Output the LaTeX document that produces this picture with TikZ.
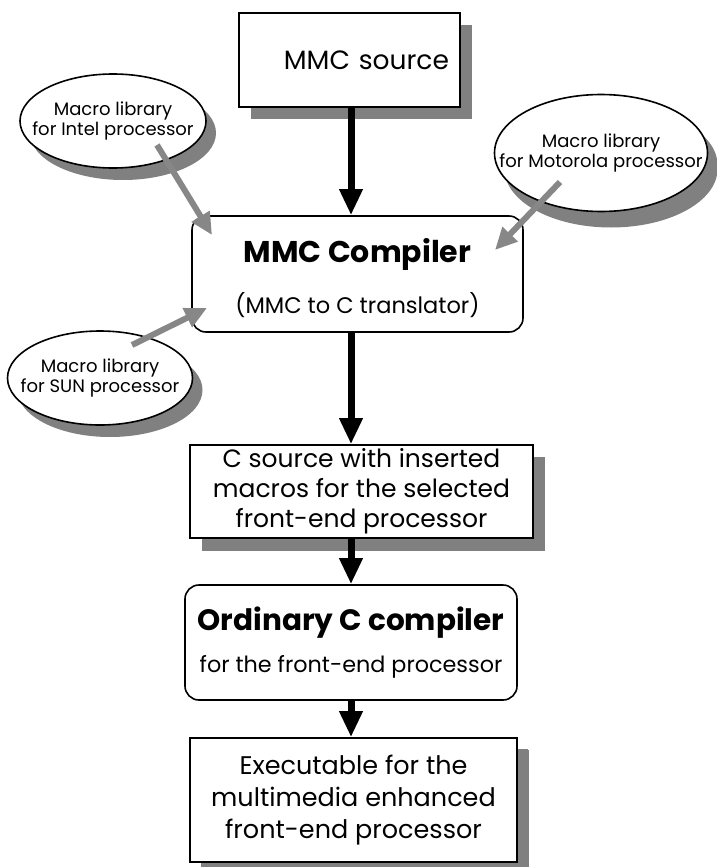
\documentclass[tikz,border=0pt]{standalone}
\usepackage{fontspec}
\setmainfont{Poppins}
\usetikzlibrary{arrows.meta,shadows,shapes.geometric,calc}
\definecolor{shadowgray}{RGB}{128,128,128}
\definecolor{feedgray}{RGB}{135,135,135}
\begin{document}
\begin{tikzpicture}[x=1pt,y=-1pt,
  box/.style={draw=black, line width=1.6pt, fill=white, inner sep=0pt, align=center,
    drop shadow={shadow xshift=12pt, shadow yshift=-12pt, fill=shadowgray, opacity=1}},
  rbox/.style={draw=black, line width=1.6pt, fill=white, rounded corners=14pt, inner sep=0pt, align=center},
  ell/.style={ellipse, draw=black, line width=1.6pt, fill=white, inner sep=0pt,
    drop shadow={shadow xshift=10pt, shadow yshift=-12pt, fill=shadowgray, opacity=1}},
  elltext/.style={align=center, font=\fontsize{18}{19.5}\selectfont},
  flow/.style={line width=7pt, draw=black, -{Triangle[length=26pt,width=22pt]}},
  feed/.style={line width=6pt, draw=feedgray, -{Triangle[length=22pt,width=20pt]}}
]
\useasboundingbox (0,0) rectangle (717,867);

% main flow boxes
\node[box, minimum width=221pt, minimum height=94pt, text width=199pt, inner xsep=10pt, align=right,
  font=\fontsize{26.5}{30}\selectfont]
  (src) at (349.5,60) {MMC source};
\node[rbox, minimum width=331pt, minimum height=116pt, font=\fontsize{22.5}{51}\selectfont]
  (comp) at (357.5,274)
  {\rule{0pt}{33pt}{\bfseries\fontsize{30}{51}\selectfont MMC Compiler}\\(MMC to C translator)};
\node[box, minimum width=343pt, minimum height=93pt, font=\fontsize{25}{30}\selectfont,
  drop shadow={shadow xshift=12pt, shadow yshift=-13pt, fill=shadowgray, opacity=1}]
  (csrc) at (361.5,491.5)
  {C source with inserted\\macros for the selected\\front-end processor};
\node[rbox, minimum width=332pt, minimum height=115pt, font=\fontsize{22.3}{42}\selectfont]
  (ord) at (351,642.5)
  {{\bfseries\fontsize{29.5}{42}\selectfont Ordinary C compiler}\\for the front-end processor};
\node[box, minimum width=327pt, minimum height=124pt, font=\fontsize{25.5}{32}\selectfont,
  drop shadow={shadow xshift=11pt, shadow yshift=-11pt, fill=shadowgray, opacity=1}]
  (exe) at (353.5,800)
  {Executable for the\\multimedia enhanced\\front-end processor};

% macro libraries
\node[ell, minimum width=186pt, minimum height=94pt,
  label={[elltext]center:{Macro library\\for Intel processor}}] (intel) at (113,121) {};
\node[ell, minimum width=213pt, minimum height=117pt,
  drop shadow={shadow xshift=10pt, shadow yshift=-16pt, fill=shadowgray, opacity=1},
  label={[elltext]center:{Macro library\\for Motorola processor}}] (moto) at (601,153) {};
\node[ell, minimum width=185pt, minimum height=94pt,
  label={[elltext]center:{Macro library\\for SUN processor}}] (sun) at (100,378) {};

% feed arrows
\coordinate (i1) at ($(intel.center)+(44,24)$);
\coordinate (i2) at (212,235);
\coordinate (m1) at ($(moto.center)+(-41,29)$);
\coordinate (m2) at (495,250);
\coordinate (s1) at ($(sun.center)+(32,-33)$);
\coordinate (s2) at (207,308);
\draw[feed] (i1) -- (i2);
\draw[feed] (m1) -- (m2);
\draw[feed] (s1) -- (s2);

% main flow arrows
\coordinate (ax) at (351,0);
\draw[flow] (src.south -| ax) -- (comp.north -| ax);
\draw[flow] (comp.south -| ax) -- (csrc.north -| ax);
\draw[flow] (csrc.south -| ax) -- (ord.north -| ax);
\draw[flow] (ord.south -| ax) -- (exe.north -| ax);
\end{tikzpicture}
\end{document}
